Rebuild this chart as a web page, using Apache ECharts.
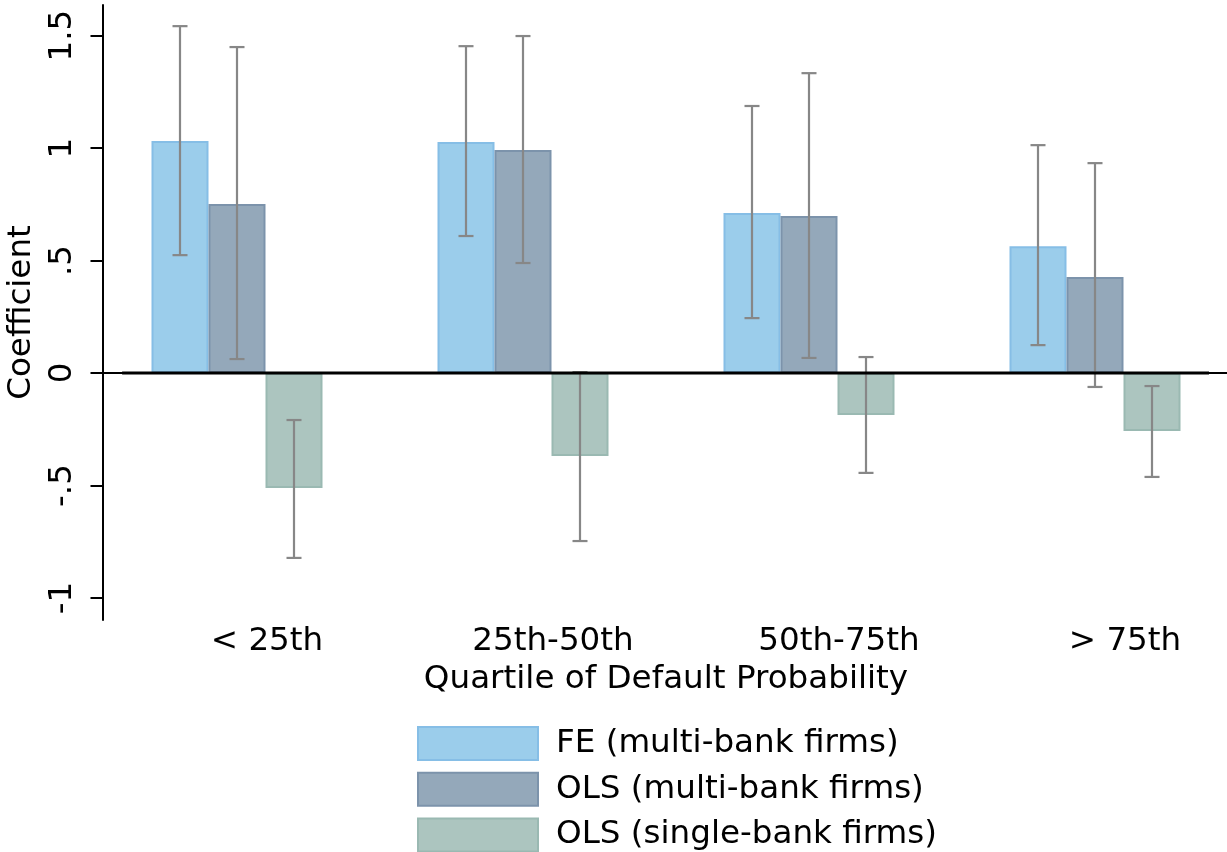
<!DOCTYPE html>
<html>
<head>
<meta charset="utf-8">
<script src="https://cdn.jsdelivr.net/npm/echarts@6/dist/echarts.min.js"></script>
<style>html,body{margin:0;padding:0;background:#fff}#c{width:1227px;height:852px}</style>
</head>
<body>
<div id="c"></div>
<script>
const categories = ['< 25th', '25th-50th', '50th-75th', '> 75th'];
const seriesNames = ['FE (multi-bank firms)', 'OLS (multi-bank firms)', 'OLS (single-bank firms)'];
const feMulti = [1.031, 1.027, 0.711, 0.564];
const olsMulti = [0.751, 0.991, 0.698, 0.427];
const olsSingle = [-0.511, -0.369, -0.187, -0.258];
const feMultiCI = [[0.524, 1.542], [0.609, 1.453], [0.244, 1.187], [0.124, 1.013]];
const olsMultiCI = [[0.062, 1.449], [0.489, 1.498], [0.067, 1.333], [-0.062, 0.933]];
const olsSingleCI = [[-0.822, -0.209], [-0.747, 0.004], [-0.444, 0.071], [-0.462, -0.058]];
const yTicks = [-1, -0.5, 0, 0.5, 1, 1.5];

const Y_MIN = -1.098, Y_MAX = 1.636;
const font = 'DejaVu Sans';
const FS = 32.6;
const BW = 57;
const fills = ['#9bcdeb', '#94a8ba', '#acc5bf'];
const borders = ['#86bee6', '#7c93ab', '#9ab9b2'];
const offsets = [-BW, 0, BW];
const values = [feMulti, olsMulti, olsSingle];
const cis = [feMultiCI, olsMultiCI, olsSingleCI];

function fmt(v) {
  if (v === 0) return '0';
  let s = String(v);
  s = s.replace(/^0\./, '.').replace(/^-0\./, '-.');
  return s;
}

const series = [];
values.forEach((vals, i) => {
  series.push({
    name: seriesNames[i], type: 'bar', xAxisIndex: 0, yAxisIndex: 0,
    data: vals, barWidth: BW, barGap: '0%',
    itemStyle: { color: fills[i], borderColor: borders[i], borderWidth: 2 },
    emphasis: { disabled: true }, z: 2
  });
});
cis.forEach((ci, i) => {
  series.push({
    type: 'custom', xAxisIndex: 0, yAxisIndex: 0, z: 4,
    data: ci.map((d, k) => [k, d[0], d[1]]),
    renderItem: function (params, api) {
      const lo = api.coord([api.value(0), api.value(1)]);
      const hi = api.coord([api.value(0), api.value(2)]);
      const x = lo[0] + offsets[i];
      const cap = 7.5;
      const st = { stroke: '#878787', lineWidth: 2.2 };
      return { type: 'group', children: [
        { type: 'line', shape: { x1: x, y1: lo[1], x2: x, y2: hi[1] }, style: st },
        { type: 'line', shape: { x1: x - cap, y1: lo[1], x2: x + cap, y2: lo[1] }, style: st },
        { type: 'line', shape: { x1: x - cap, y1: hi[1], x2: x + cap, y2: hi[1] }, style: st }
      ]};
    }
  });
});
series.push({
  type: 'line', xAxisIndex: 1, yAxisIndex: 1, data: [[0.017, 0], [0.984, 0]],
  symbol: 'none', lineStyle: { color: '#000', width: 2.8 }, z: 5, silent: true
});

const chart = echarts.init(document.getElementById('c'));
chart.setOption({
  animation: false,
  backgroundColor: '#fff',
  grid: [
    { left: 94, right: -11, top: 5, bottom: 232, outerBoundsMode: 'none', containLabel: false },
    { left: 103, right: 0, top: 5, bottom: 232, outerBoundsMode: 'none', containLabel: false }
  ],
  xAxis: [
    { type: 'category', gridIndex: 0, data: categories,
      axisLine: { show: false }, axisTick: { show: false },
      axisLabel: { fontFamily: font, fontSize: FS, color: '#000', margin: 5, padding: [0, 0, 0, 60] },
      name: 'Quartile of Default Probability', nameLocation: 'middle', nameGap: 33,
      nameTextStyle: { fontFamily: font, fontSize: FS, color: '#000' } },
    { type: 'value', gridIndex: 1, min: 0, max: 1, position: 'bottom',
      axisLine: { show: true, lineStyle: { color: '#000', width: 2 } },
      axisTick: { show: false }, axisLabel: { show: false }, splitLine: { show: false } }
  ],
  yAxis: [
    { type: 'value', gridIndex: 0, min: Y_MIN, max: Y_MAX, show: false, splitLine: { show: false } },
    { type: 'value', gridIndex: 1, min: Y_MIN, max: Y_MAX,
      axisLine: { show: true, lineStyle: { color: '#000', width: 2 } },
      axisTick: { show: true, length: 12.5, lineStyle: { color: '#000', width: 2 }, customValues: yTicks },
      axisLabel: { show: true, customValues: yTicks, rotate: 90, fontFamily: font, fontSize: FS, color: '#000', margin: 24, formatter: fmt },
      splitLine: { show: false },
      name: 'Coefficient', nameLocation: 'middle', nameGap: 60,
      nameTextStyle: { fontFamily: font, fontSize: FS, color: '#000' } }
  ],
  legend: {
    orient: 'vertical', left: 417, top: 726, height: 140, padding: 0,
    itemWidth: 120, itemHeight: 33, itemGap: 10.7, icon: 'rect',
    data: seriesNames,
    textStyle: { fontFamily: font, fontSize: FS, lineHeight: 33, color: '#000', padding: [0, 0, 0, 13] },
    selectedMode: false
  },
  series: series
});
</script>
</body>
</html>
